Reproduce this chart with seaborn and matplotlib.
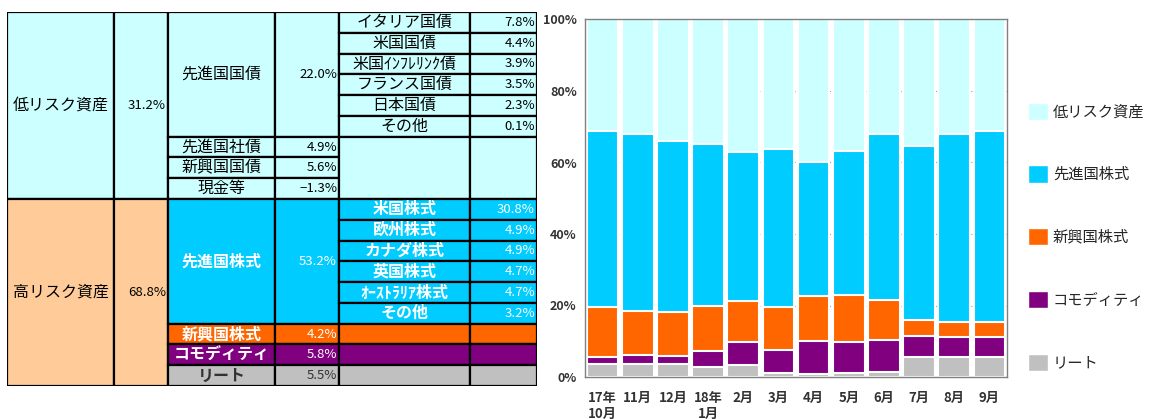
import numpy as np
import pandas as pd
import seaborn as sns
import matplotlib.pyplot as plt
from matplotlib.patches import Rectangle, Patch

sns.set_theme(style="white")
plt.rcParams['font.family'] = ['Noto Sans CJK JP', 'DejaVu Sans']

############################## table data ##############################
low_label, low_total = "低リスク資産", 31.2
high_label, high_total = "高リスク資産", 68.8

dev_bond_label, dev_bond_total = "先進国国債", 22.0
dev_bond_names = ["イタリア国債", "米国国債", "米国ｲﾝﾌﾚﾘﾝｸ債", "フランス国債", "日本国債", "その他"]
dev_bond_vals = [7.8, 4.4, 3.9, 3.5, 2.3, 0.1]
other_low_names = ["先進国社債", "新興国国債", "現金等"]
other_low_vals = [4.9, 5.6, -1.3]

dev_stock_label, dev_stock_total = "先進国株式", 53.2
dev_stock_names = ["米国株式", "欧州株式", "カナダ株式", "英国株式", "ｵｰｽﾄﾗﾘｱ株式", "その他"]
dev_stock_vals = [30.8, 4.9, 4.9, 4.7, 4.7, 3.2]
other_high_names = ["新興国株式", "コモディティ", "リート"]
other_high_vals = [4.2, 5.8, 5.5]

############################## bar data ##############################
months = ["17年\n10月", "11月", "12月", "18年\n1月", "2月", "3月", "4月", "5月", "6月", "7月", "8月", "9月"]
reit = [3.5, 3.5, 3.5, 2.9, 3.4, 1.2, 0.7, 1.1, 1.4, 5.6, 5.6, 5.5]
commodity = [2.1, 2.7, 2.4, 4.4, 6.4, 6.4, 9.3, 8.7, 9.0, 5.8, 5.6, 5.8]
em_stock = [13.9, 12.4, 12.4, 12.5, 11.5, 11.9, 12.6, 13.1, 11.1, 4.5, 4.3, 4.2]
dm_stock = [49.3, 49.5, 47.7, 45.5, 41.5, 44.3, 37.4, 40.2, 46.4, 48.7, 52.4, 53.2]
low_risk = [31.2, 31.9, 34.0, 34.7, 37.2, 36.2, 40.0, 36.9, 32.1, 35.4, 32.1, 31.3]
series_names = ["低リスク資産", "先進国株式", "新興国株式", "コモディティ", "リート"]

C_LOW = "#CCFFFF"
C_PEACH = "#FFCC99"
C_DM = "#00CCFF"
C_EM = "#FF6600"
C_COM = "#800080"
C_REIT = "#C0C0C0"

def pct(v):
    return f"{v:.1f}%".replace("-", "\u2212")

fig = plt.figure(figsize=(11.5, 4.19), dpi=100)

############################## table ##############################
W, H = 1150, 419
tx0, tx1, ty0, ty1 = 7, 537, 12, 386
axt = fig.add_axes([tx0 / W, (H - ty1) / H, (tx1 - tx0) / W, (ty1 - ty0) / H])
edges = [0, 107, 161, 268, 332, 463, 530]
nrows = 18
axt.set_xlim(0, edges[-1])
axt.set_ylim(nrows, 0)
axt.axis("off")

NAME_SIZE = 11.5
NUM_SIZE = 9.5

def cell(c0, c1, r0, r1, fc, text=None, align="center", color="black", size=NUM_SIZE, weight="normal"):
    x0, x1 = edges[c0], edges[c1]
    axt.add_patch(Rectangle((x0, r0), x1 - x0, r1 - r0, facecolor=fc, edgecolor="black", linewidth=1.6))
    if text is None:
        return
    if align == "center":
        tx, ha = (x0 + x1) / 2, "center"
    else:
        tx, ha = x1 - 2, "right"
    axt.text(tx, (r0 + r1) / 2, text, ha=ha, va="center", color=color, fontsize=size, fontweight=weight)

nb = len(dev_bond_names)
nlow = nb + len(other_low_names)
cell(0, 1, 0, nlow, C_LOW, low_label, size=NAME_SIZE)
cell(1, 2, 0, nlow, C_LOW, pct(low_total), align="right")
cell(2, 3, 0, nb, C_LOW, dev_bond_label, size=NAME_SIZE)
cell(3, 4, 0, nb, C_LOW, pct(dev_bond_total), align="right")
for i, (n, v) in enumerate(zip(dev_bond_names, dev_bond_vals)):
    cell(4, 5, i, i + 1, C_LOW, n, size=NAME_SIZE)
    cell(5, 6, i, i + 1, C_LOW, pct(v), align="right")
for i, (n, v) in enumerate(zip(other_low_names, other_low_vals)):
    cell(2, 3, nb + i, nb + i + 1, C_LOW, n, size=NAME_SIZE)
    cell(3, 4, nb + i, nb + i + 1, C_LOW, pct(v), align="right")
cell(4, 5, nb, nlow, C_LOW)
cell(5, 6, nb, nlow, C_LOW)

ns = len(dev_stock_names)
r = nlow
cell(0, 1, r, nrows, C_PEACH, high_label, size=NAME_SIZE)
cell(1, 2, r, nrows, C_PEACH, pct(high_total), align="right")
cell(2, 3, r, r + ns, C_DM, dev_stock_label, color="white", size=NAME_SIZE, weight="bold")
cell(3, 4, r, r + ns, C_DM, pct(dev_stock_total), align="right", color="white")
for i, (n, v) in enumerate(zip(dev_stock_names, dev_stock_vals)):
    cell(4, 5, r + i, r + i + 1, C_DM, n, color="white", size=NAME_SIZE, weight="bold")
    cell(5, 6, r + i, r + i + 1, C_DM, pct(v), align="right", color="white")
row_cols = [(C_EM, "white"), (C_COM, "white"), (C_REIT, "#333333")]
for i, (n, v) in enumerate(zip(other_high_names, other_high_vals)):
    fc, tc = row_cols[i]
    rr = r + ns + i
    cell(2, 3, rr, rr + 1, fc, n, color=tc, size=NAME_SIZE, weight="bold")
    cell(3, 4, rr, rr + 1, fc, pct(v), align="right", color=tc)
    cell(4, 5, rr, rr + 1, fc)
    cell(5, 6, rr, rr + 1, fc)

############################## stacked bars ##############################
bx0, bx1, by0, by1 = 585, 1007, 19.5, 377
ax = fig.add_axes([bx0 / W, (H - by1) / H, (bx1 - bx0) / W, (by1 - by0) / H])

layers = np.array([reit, commodity, em_stock, dm_stock, low_risk])
cum = np.cumsum(layers, axis=0)
df = pd.DataFrame({"month": months,
                   "リート": cum[0], "コモディティ": cum[1], "新興国株式": cum[2],
                   "先進国株式": cum[3], "低リスク資産": cum[4]})
colors = {"低リスク資産": C_LOW, "先進国株式": C_DM, "新興国株式": C_EM, "コモディティ": C_COM, "リート": C_REIT}

for name in series_names:
    sns.barplot(data=df, x="month", y=name, order=months, color=colors[name], saturation=1,
                width=0.9, edgecolor="white", linewidth=1.5, errorbar=None, ax=ax)

ax.set_ylim(0, 100)
ax.set_yticks(np.arange(0, 101, 20))
ax.set_yticklabels([f"{v}%" for v in range(0, 101, 20)])
ax.set_xlabel("")
ax.set_ylabel("")
ax.yaxis.grid(True, linestyle=":", color="#999999", linewidth=0.8)
ax.set_axisbelow(True)
for s in ax.spines.values():
    s.set_color("#808080")
    s.set_linewidth(1.0)
ax.tick_params(axis="y", labelsize=9, colors="#333333", length=0, pad=6)
ax.tick_params(axis="x", labelsize=9.5, colors="#333333", length=0, pad=10)
for lab in ax.get_xticklabels() + ax.get_yticklabels():
    lab.set_fontweight("bold")
for lab in ax.get_xticklabels():
    lab.set_va("top")
    lab.set_linespacing(1.2)

handles = [Patch(facecolor=colors[n], edgecolor="white") for n in series_names]
fig.legend(handles, series_names, loc="center left", bbox_to_anchor=(1014 / W, (H - 237) / H),
           frameon=False, fontsize=11, handlelength=1.35, handleheight=1.35,
           labelspacing=2.95, handletextpad=0.3)

fig.savefig("out.png", dpi=100)
